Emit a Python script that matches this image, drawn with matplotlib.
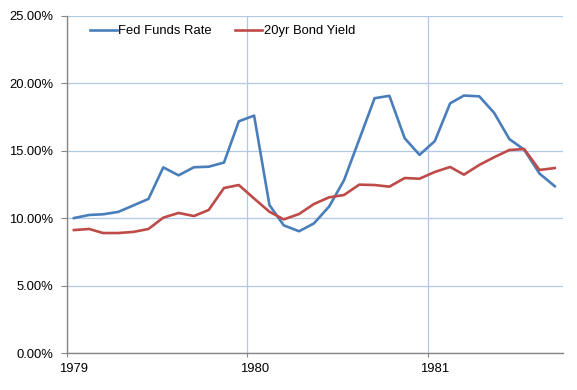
import numpy as np
import pandas as pd
import matplotlib
matplotlib.use("Agg")
import matplotlib.pyplot as plt
import matplotlib.dates as mdates
import matplotlib.transforms as mtransforms
from matplotlib.ticker import FuncFormatter

plt.rcParams['font.family'] = ['Liberation Sans', 'DejaVu Sans']

# monthly values, mid-month from Jan 1979
months = pd.date_range("1979-01-01", periods=33, freq="MS") + pd.Timedelta(days=14)

fed_funds = [10.01, 10.24, 10.29, 10.47, 10.94, 11.43, 13.77, 13.18, 13.78, 13.82, 14.13,
             17.19, 17.61, 10.98, 9.47, 9.03, 9.61, 10.87, 12.81, 15.85, 18.90, 19.08,
             15.93, 14.70, 15.72, 18.52, 19.10, 19.04, 17.82, 15.87, 15.08, 13.31, 12.37]
bond_20yr = [9.12, 9.20, 8.90, 8.90, 8.98, 9.20, 10.04, 10.39, 10.16, 10.61, 12.24,
             12.46, 11.46, 10.48, 9.91, 10.31, 11.05, 11.55, 11.72, 12.49, 12.46, 12.34,
             12.98, 12.93, 13.43, 13.80, 13.23, 13.95, 14.52, 15.06, 15.13, 13.58, 13.72]

series_names = ["Fed Funds Rate", "20yr Bond Yield"]
colors = ["#4a7ebb", "#be4b48"]

fig = plt.figure(figsize=(5.77, 3.9), dpi=100)
ax = fig.add_axes([67 / 577, 1 - 353 / 390, (562.7 - 67) / 577, (353 - 16) / 390])

ax.plot(months, fed_funds, color=colors[0], lw=1.9, label=series_names[0])
ax.plot(months, bond_20yr, color=colors[1], lw=1.9, label=series_names[1])

ax.set_xlim(pd.Timestamp("1979-01-01"), pd.Timestamp("1981-10-01"))
ax.set_ylim(0, 25)
ax.set_yticks(np.arange(0, 26, 5))
ax.yaxis.set_major_formatter(FuncFormatter(lambda v, p: f"{v:.2f}%"))
ax.xaxis.set_major_locator(mdates.YearLocator())
ax.xaxis.set_major_formatter(mdates.DateFormatter("%Y"))

ax.grid(True, color="#b3c8e6", lw=0.9)
ax.set_axisbelow(True)
for s in ["top", "right"]:
    ax.spines[s].set_visible(False)
for s in ["left", "bottom"]:
    ax.spines[s].set_color("#868686")
    ax.spines[s].set_linewidth(1.0)
ax.tick_params(axis="y", direction="out", length=4, color="#868686", pad=6,
               labelsize=9.4, labelcolor="black")
ax.tick_params(axis="x", direction="out", length=3, color="#868686", pad=4,
               labelsize=9.4, labelcolor="black")

# Excel-style labels sit a bit right of the year tick
offset = mtransforms.ScaledTranslation(7 / 100, 0, fig.dpi_scale_trans)
for lbl in ax.get_xticklabels():
    lbl.set_transform(lbl.get_transform() + offset)

ax.legend(loc="upper left", bbox_to_anchor=(0.022, 1.008), ncol=2, frameon=False,
          fontsize=9.4, handlelength=2.1, handletextpad=0.1, columnspacing=1.75)

fig.savefig("out.png", dpi=100)
